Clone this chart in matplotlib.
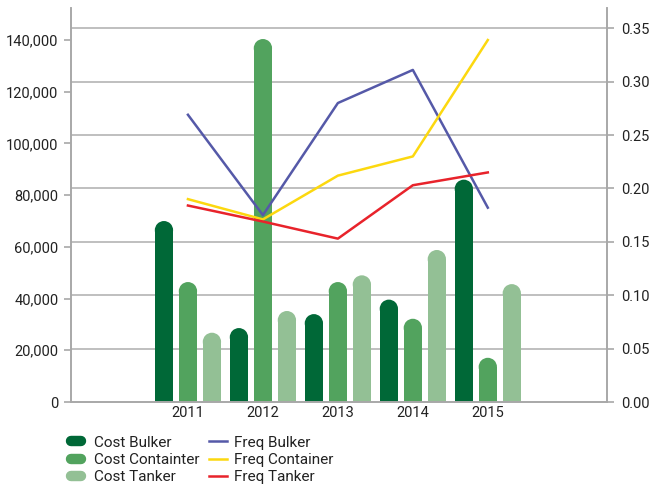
import matplotlib
matplotlib.use('Agg')
import matplotlib.pyplot as plt
from matplotlib.patches import Ellipse
from matplotlib.lines import Line2D
from matplotlib.ticker import FuncFormatter
import numpy as np

plt.rcParams['font.family'] = ['Roboto', 'DejaVu Sans']
plt.rcParams['font.size'] = 10.5

# data
years = ['2011', '2012', '2013', '2014', '2015']
cost_bulker = [70000, 28600, 34000, 39600, 86000]
cost_container = [46400, 140400, 46400, 32200, 17100]
cost_tanker = [26800, 35200, 49000, 58800, 45600]
freq_bulker = [0.269, 0.175, 0.280, 0.311, 0.182]
freq_container = [0.190, 0.171, 0.212, 0.230, 0.339]
freq_tanker = [0.184, 0.169, 0.153, 0.203, 0.215]

bar_colors = ['#006837', '#52a35e', '#93c095']
line_colors = ['#5559a8', '#fcd80f', '#e8232b']
grid_color = '#b4b4b4'
axis_color = '#a8a8a8'

W, H = 651, 486
fig = plt.figure(figsize=(W / 100, H / 100), dpi=100)
ax = fig.add_axes([71 / W, 84 / H, 536 / W, 394 / H])
ax2 = ax.twinx()

y1max = 152400
y2max = 0.369
ax.set_ylim(0, y1max)
ax2.set_ylim(0, y2max)
ax.set_xlim(-1.56, 5.59)

x = np.arange(len(years))
bw = 0.244
off = 0.32
ax_h_px = 394
r_data = (bw * 75 / 2) * y1max / ax_h_px   # cap radius in y units

for i, (vals, col) in enumerate(zip([cost_bulker, cost_container, cost_tanker], bar_colors)):
    xs = x + (i - 1) * off
    ax.bar(xs, [v - r_data for v in vals], width=bw, color=col, zorder=2)
    for xi, v in zip(xs, vals):
        ax.add_patch(Ellipse((xi, v - r_data), bw, 2 * r_data, color=col, zorder=2, lw=0))

# grid from the right axis, drawn under the bars
for g in np.arange(0.05, 0.36, 0.05):
    ax.plot([0, 1], [g, g], transform=ax2.get_yaxis_transform(), color=grid_color, lw=1.2, zorder=0)

for vals, col in zip([freq_bulker, freq_container, freq_tanker], line_colors):
    ax2.plot(x, vals, color=col, lw=1.8)

ax.set_yticks(np.arange(0, 140001, 20000))
ax.yaxis.set_major_formatter(FuncFormatter(lambda v, p: f'{int(v):,}'))
ax2.set_yticks(np.arange(0, 0.351, 0.05))
ax2.yaxis.set_major_formatter(FuncFormatter(lambda v, p: f'{v:.2f}'))
ax.set_xticks(x)
ax.set_xticklabels(years)

for a in (ax, ax2):
    a.spines['top'].set_visible(False)
    for s in ('left', 'right', 'bottom'):
        a.spines[s].set_color(axis_color)
        a.spines[s].set_linewidth(1.2)
ax.tick_params(axis='y', length=5, width=1.2, color=axis_color, pad=4, labelcolor='#222222')
ax2.tick_params(axis='y', length=5, width=1.2, color=axis_color, pad=5, labelcolor='#222222')
ax.tick_params(axis='x', length=0, pad=3, labelcolor='#222222')

h1 = [Line2D([0], [0], color=c, lw=7.5, solid_capstyle='round') for c in bar_colors]
h2 = [Line2D([0], [0], color=c, lw=1.8) for c in line_colors]
leg1 = fig.legend(h1, ['Cost Bulker', 'Cost Containter', 'Cost Tanker'], loc='upper left',
                  bbox_to_anchor=(63 / W, 1 - 428 / H), frameon=False, borderpad=0,
                  handlelength=0.7, handletextpad=0.8, labelspacing=0.22, fontsize=11)
leg2 = fig.legend(h2, ['Freq Bulker', 'Freq Container', 'Freq Tanker'], loc='upper left',
                  bbox_to_anchor=(201 / W, 1 - 428 / H), frameon=False, borderpad=0,
                  handlelength=1.17, handletextpad=0.48, labelspacing=0.22, fontsize=11)
for t in leg1.get_texts() + leg2.get_texts():
    t.set_color('#222222')

fig.savefig('out.png', dpi=100)
